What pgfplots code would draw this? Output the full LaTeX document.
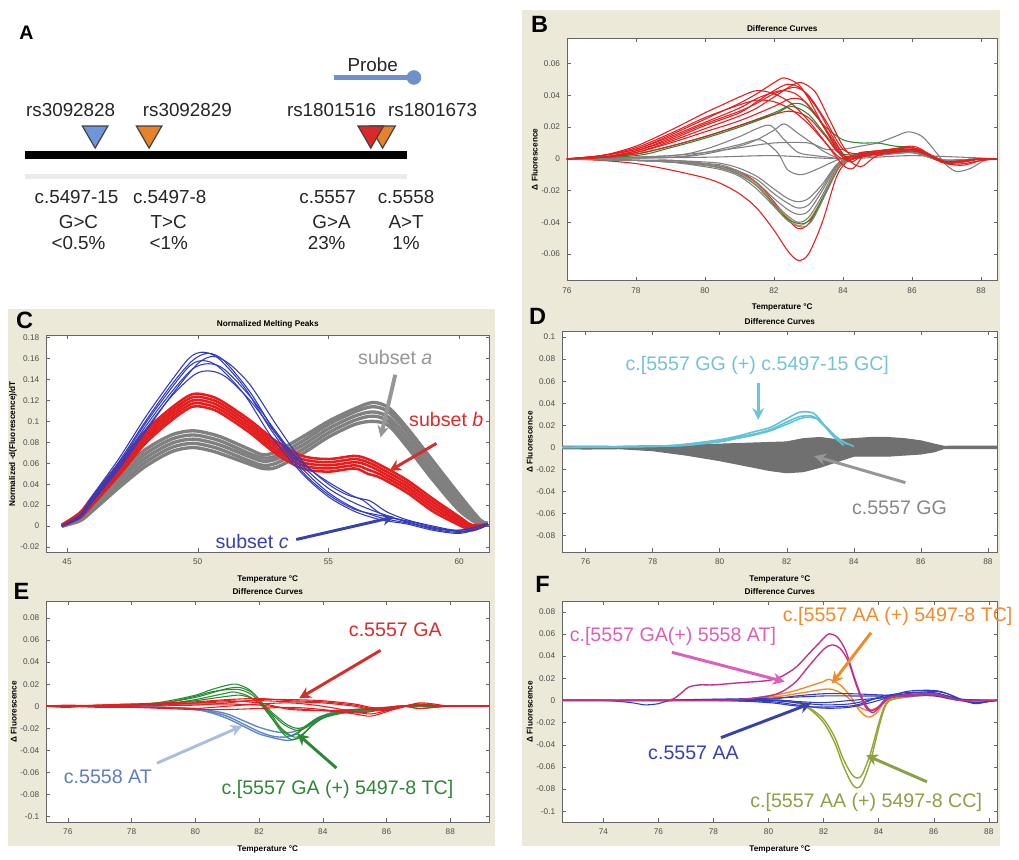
\documentclass[border=0pt]{standalone}
\usepackage{pgfplots}
\pgfplotsset{compat=1.18}
\usepackage{fontspec}
\setmainfont{Liberation Sans}
\usetikzlibrary{arrows.meta}
\definecolor{beige}{RGB}{236,233,216}
\definecolor{cgrey}{RGB}{128,128,128}
\definecolor{dgrey}{RGB}{112,112,112}
\definecolor{cred}{RGB}{228,30,30}
\definecolor{cblue}{RGB}{50,60,190}
\definecolor{cgreen}{RGB}{40,140,50}
\definecolor{corange}{RGB}{240,140,40}
\definecolor{ccyan}{RGB}{95,195,215}
\definecolor{csteel}{RGB}{95,135,200}
\definecolor{cpink}{RGB}{190,50,140}
\definecolor{colive}{RGB}{150,165,50}
\definecolor{probe}{RGB}{110,145,205}
\definecolor{tblue}{RGB}{110,150,220}
\definecolor{torange}{RGB}{230,130,40}
\definecolor{tred}{RGB}{220,40,40}
\definecolor{agrey}{RGB}{150,150,150}
\definecolor{ared}{RGB}{215,45,45}
\definecolor{ablue}{RGB}{55,65,175}
\definecolor{acyan}{RGB}{115,195,215}
\definecolor{asteel}{RGB}{95,125,190}
\definecolor{asteelarrow}{RGB}{170,190,222}
\definecolor{agreen}{RGB}{45,135,55}
\definecolor{apink}{RGB}{220,95,185}
\definecolor{aorange}{RGB}{238,140,45}
\definecolor{aolive}{RGB}{140,160,70}
\newcommand\ann{\fontsize{10}{12}\selectfont}
\newcommand\tk{\fontsize{4.2}{5}\selectfont}
\pgfplotsset{
  mat/.style={
    scale only axis, anchor=north west, clip=true,
    axis background/.style={fill=white},
    axis line style={black!60},
    tick style={black!60},
    major tick length=2pt,
    tick align=inside,
    ticklabel style={font=\tk, text=black!70},
    /pgf/number format/assume math mode=true,
    /pgf/number format/fixed, /pgf/number format/precision=2,
    scaled ticks=false,
    title style={font=\tk\bfseries, yshift=-6pt},
    xlabel style={font=\tk\bfseries, yshift=1.5pt},
    ylabel style={font=\tk\bfseries, yshift=-5pt},
    xlabel={Temperature °C},
    ylabel={Δ Fluorescence},
    title={Difference Curves},
    every axis plot/.append style={smooth, line width=0.55pt, no marks},
  },
}
\begin{document}
\begin{tikzpicture}
\begin{scope}[x=0.5pt,y=-0.5pt]
\useasboundingbox (0,0) rectangle (1019,862);
\fill[white] (0,0) rectangle (1019,862);
\fill[beige] (532,10) rectangle (1019,862);
\fill[beige] (8,315) rectangle (505,862);
\end{scope}

% ---------------- Panel A
\begin{axis}[at={(0pt,0pt)}, anchor=north west, scale only axis, width=265pt, height=150pt,
  xmin=0, xmax=530, ymin=-300, ymax=0, hide axis, clip=false]
\addplot[black!8, line width=2.5pt] coordinates {(25,-180) (415,-180)};
\addplot[black, line width=4pt] coordinates {(25,-158) (415,-158)};
\addplot[probe, line width=2.5pt] coordinates {(340,-79) (418,-79)};
\addplot[only marks, mark=*, mark size=3.5pt, color=probe] coordinates {(422,-79)};
\addplot[only marks, mark=triangle*, mark size=7.5pt, mark options={rotate=180, fill=tblue, draw=black!75, line width=0.6pt}] coordinates {(97,-136)};
\addplot[only marks, mark=triangle*, mark size=7.5pt, mark options={rotate=180, fill=torange, draw=black!75, line width=0.6pt}] coordinates {(152,-136)};
\addplot[only marks, mark=triangle*, mark size=7.5pt, mark options={rotate=180, fill=torange, draw=black!75, line width=0.6pt}] coordinates {(390,-136)};
\addplot[only marks, mark=triangle*, mark size=7.5pt, mark options={rotate=180, fill=tred, draw=black!75, line width=0.6pt}] coordinates {(378,-136)};
\node[font=\fontsize{10}{12}\selectfont\bfseries] at (axis cs:27,-33) {A};
\begin{scope}[every node/.style={font=\fontsize{9.6}{11}\selectfont, text=black!85}]
\node at (axis cs:380,-66) {Probe};
\node at (axis cs:72,-112) {rs3092828};
\node at (axis cs:191,-112) {rs3092829};
\node at (axis cs:338,-112) {rs1801516};
\node at (axis cs:441,-112) {rs1801673};
\node at (axis cs:78,-201) {c.5497-15};
\node at (axis cs:80,-226) {G>C};
\node at (axis cs:80,-248) {<0.5\%};
\node at (axis cs:173,-201) {c.5497-8};
\node at (axis cs:172,-226) {T>C};
\node at (axis cs:172,-248) {<1\%};
\node at (axis cs:334,-201) {c.5557};
\node at (axis cs:338,-226) {G>A};
\node at (axis cs:333,-248) {23\%};
\node at (axis cs:414,-201) {c.5558};
\node at (axis cs:414,-226) {A>T};
\node at (axis cs:414,-248) {1\%};
\end{scope}
\end{axis}

% ---------------- Panel B
\begin{axis}[mat, at={(289pt,-19.5pt)}, width=219.5pt, height=123.5pt,
  xmin=76, xmax=88.48, ymin=-0.0767, ymax=0.076,
  xtick={76,78,80,82,84,86,88}, ytick={-0.06,-0.04,-0.02,0,0.02,0.04,0.06}]
\addplot[cred] coordinates {(76,0)(77,-0.001)(78,-0.003)(79,-0.007)(80,-0.012)(80.5,-0.016)(81,-0.022)(81.5,-0.031)(82,-0.045)(82.4,-0.058)(82.7,-0.064)(83,-0.060)(83.4,-0.04)(83.8,-0.012)(84.1,-0.002)(84.5,0.002)(85,0.003)(86,0.004)(86.5,0.001)(87,-0.002)(88,0)(88.48,0)};
\addplot[cred] coordinates {(76,0)(78,-0.001)(79,-0.001)(80,-0.003)(80.5,-0.005)(81,-0.008)(81.5,-0.015)(82,-0.027)(82.4,-0.038)(82.7,-0.044)(83,-0.041)(83.4,-0.026)(83.8,-0.008)(84.1,0)(84.5,0.003)(85,0.004)(86,0.005)(86.5,0.001)(87,-0.002)(88,0)(88.48,0)};
\addplot[corange] coordinates {(76,0)(78,-0.001)(79,-0.002)(80,-0.004)(80.5,-0.006)(81,-0.009)(81.5,-0.016)(82,-0.028)(82.4,-0.037)(82.7,-0.042)(83,-0.039)(83.4,-0.025)(83.8,-0.007)(84.1,0)(84.5,0.003)(85,0.004)(86,0.005)(86.5,0.001)(87,-0.002)(88,0)(88.48,0)};
\addplot[cgreen] coordinates {(76,0)(78,-0.001)(79,-0.002)(80,-0.004)(80.5,-0.006)(81,-0.01)(81.5,-0.017)(82,-0.029)(82.4,-0.038)(82.8,-0.041)(83.1,-0.037)(83.5,-0.021)(83.9,-0.005)(84.2,0)(84.5,0.003)(85,0.004)(86,0.005)(86.5,0.001)(87,-0.002)(88,0)(88.48,0)};
\addplot[cgrey] coordinates {(76,0)(78,-0.001)(79,-0.002)(80,-0.004)(80.5,-0.006)(81,-0.010)(81.5,-0.017)(82,-0.028)(82.4,-0.036)(82.7,-0.040)(83,-0.037)(83.4,-0.023)(83.8,-0.006)(84.1,0)(84.5,0.003)(85,0.004)(86,0.006)(86.5,0.002)(87,-0.001)(88,0)(88.48,0)};
\addplot[cgrey] coordinates {(76,0)(78,-0.001)(79,-0.002)(80,-0.003)(80.5,-0.005)(81,-0.009)(81.5,-0.015)(82,-0.025)(82.4,-0.032)(82.7,-0.035)(83,-0.033)(83.4,-0.02)(83.8,-0.005)(84.1,0)(84.5,0.002)(85,0.003)(86,0.005)(86.5,0.002)(87,-0.001)(88,0)(88.48,0)};
\addplot[cgrey] coordinates {(76,0)(78,-0.001)(79,-0.001)(80,-0.003)(80.5,-0.004)(81,-0.008)(81.5,-0.013)(82,-0.022)(82.4,-0.028)(82.7,-0.031)(83,-0.029)(83.4,-0.018)(83.8,-0.004)(84.1,0)(84.5,0.002)(85,0.003)(86,0.005)(86.5,0.002)(87,-0.001)(88,0)(88.48,0)};
\addplot[cgrey] coordinates {(76,0)(78,-0.001)(79,-0.001)(80,-0.002)(80.5,-0.003)(81,-0.006)(81.5,-0.011)(82,-0.019)(82.4,-0.025)(82.7,-0.027)(83,-0.025)(83.4,-0.016)(83.8,-0.004)(84.1,0)(84.5,0.002)(85,0.003)(86,0.004)(86.5,0.002)(87,-0.001)(88,0)(88.48,0)};
\addplot[cgrey] coordinates {(76,0)(78,-0.001)(79,-0.002)(80,-0.005)(80.5,-0.007)(81,-0.011)(81.5,-0.019)(82,-0.03)(82.4,-0.039)(82.8,-0.043)(83.1,-0.039)(83.5,-0.022)(83.9,-0.005)(84.2,0)(84.5,0.003)(85,0.004)(86,0.006)(86.5,0.002)(87,-0.001)(88,0)(88.48,0)};
\addplot[cgrey] coordinates {(76,0)(79,0.002)(80,0.006)(81,0.014)(81.5,0.019)(81.9,0.021)(82.3,0.012)(82.7,0.004)(83.2,0.002)(83.6,0.001)(84,0)(85,0.003)(86,0.004)(86.5,0.001)(87,-0.001)(88,0)(88.48,0)};
\addplot[cgrey] coordinates {(76,0)(79,0.001)(80,0.004)(81,0.009)(81.6,0.012)(82.1,0.004)(82.4,-0.007)(82.8,-0.01)(83.3,-0.006)(83.8,-0.001)(84,0)(85,0.002)(86,0.004)(86.5,0.001)(87,-0.001)(88,0)(88.48,0)};
\addplot[cgrey] coordinates {(76,0)(78,0.001)(79,0.002)(80,0.004)(81,0.007)(82,0.01)(83,0.01)(83.5,0.006)(84,0.006)(84.5,0.008)(85,0.01)(85.5,0.014)(85.9,0.017)(86.3,0.014)(86.7,0.004)(87,-0.004)(87.3,-0.008)(87.7,-0.006)(88.1,-0.001)(88.48,0)};
\addplot[cgrey] coordinates {(76,0)(80,0.001)(82,0.002)(84,0)(86,0.002)(88.48,0)};
\addplot[cgrey] coordinates {(76,0)(79,0.001)(80,0.003)(81,0.008)(81.5,0.012)(82,0.018)(82.3,0.022)(82.7,0.016)(83.1,0.01)(83.5,0.004)(84,0)(85,0.003)(86,0.004)(86.5,0.001)(87,-0.001)(88,0)(88.48,0)};
\addplot[cgreen] coordinates {(76,0)(77,0.001)(78,0.003)(79,0.008)(80,0.014)(81,0.021)(82,0.029)(82.6,0.035)(83,0.032)(83.5,0.02)(84,0.012)(84.5,0.01)(85,0.01)(85.5,0.008)(86,0.007)(86.5,0.002)(87,-0.002)(88,0)(88.48,0)};
\addplot[cgreen] coordinates {(76,0)(78,0.002)(79,0.007)(80,0.013)(81,0.02)(82,0.028)(82.5,0.033)(83,0.028)(83.5,0.015)(84,0.003)(85,0.004)(86,0.006)(86.5,0.002)(87,-0.002)(88,0)(88.48,0)};
\addplot[cred] coordinates {(76,0)(77,0.002)(78,0.006)(79,0.015)(80,0.025)(80.5,0.030)(81,0.035)(81.5,0.041)(82,0.048)(82.3,0.051)(82.7,0.047)(83,0.038)(83.5,0.018)(84,0.001)(84.5,0.004)(85,0.005)(85.5,0.006)(86,0.007)(86.5,0.002)(87,-0.003)(87.5,-0.003)(88,-0.001)(88.48,0)};
\addplot[cred] coordinates {(76,0)(77,0.001)(78,0.004)(79,0.011)(80,0.019)(81,0.027)(81.5,0.032)(82,0.039)(82.5,0.046)(82.8,0.048)(83.2,0.042)(83.6,0.025)(84,0.008)(84.3,0.001)(84.6,0.004)(85,0.005)(86,0.007)(86.5,0.003)(87,-0.002)(87.5,-0.002)(88,0)(88.48,0)};
\addplot[cred] coordinates {(76,0)(77,0.002)(78,0.008)(79,0.018)(80,0.029)(80.5,0.034)(81,0.039)(81.5,0.043)(82,0.041)(82.5,0.035)(83,0.024)(83.5,0.01)(84,-0.004)(84.3,-0.006)(84.6,0.002)(85,0.004)(86,0.006)(86.5,0.002)(87,-0.003)(87.5,-0.004)(88,-0.001)(88.48,0)};
\addplot[cred] coordinates {(76,0)(77,0.001)(78,0.005)(79,0.013)(80,0.022)(81,0.03)(81.5,0.035)(82,0.041)(82.6,0.045)(83,0.04)(83.5,0.024)(84,0.006)(84.5,0.003)(85,0.004)(86,0.008)(86.5,0.003)(87,-0.002)(88,0)(88.48,0)};
\addplot[cred] coordinates {(76,0)(77,0.001)(78,0.004)(79,0.01)(80,0.017)(81,0.024)(82,0.033)(82.5,0.038)(82.9,0.036)(83.4,0.022)(84,0.003)(84.5,-0.005)(85,0.002)(86,0.006)(86.5,0.002)(87,-0.002)(88,0)(88.48,0)};
\addplot[cred] coordinates {(76,0)(77,0.002)(78,0.007)(79,0.016)(80,0.026)(81,0.034)(81.5,0.037)(82,0.036)(82.5,0.031)(83,0.022)(83.5,0.01)(84,0)(85,0.003)(86,0.005)(86.5,0.002)(87,-0.003)(88,0)(88.48,0)};
\addplot[cred] coordinates {(76,0)(77,0.001)(78,0.005)(79,0.012)(80,0.021)(81,0.029)(81.5,0.036)(82,0.043)(82.4,0.047)(82.8,0.044)(83.3,0.03)(83.8,0.01)(84.2,-0.002)(84.6,0.003)(85,0.004)(86,0.006)(86.5,0.002)(87,-0.002)(88,0)(88.48,0)};
\addplot[cred] coordinates {(76,0)(77,0.001)(78,0.003)(79,0.008)(80,0.014)(81,0.021)(82,0.028)(82.5,0.03)(83,0.026)(83.5,0.014)(84,0.002)(85,0.003)(86,0.005)(86.5,0.002)(87,-0.002)(88,0)(88.48,0)};
\addplot[cred] coordinates {(76,0)(77,0.002)(78,0.006)(79,0.014)(80,0.023)(81,0.032)(81.5,0.038)(82,0.042)(82.3,0.043)(82.7,0.04)(83.2,0.028)(83.7,0.011)(84.1,-0.001)(84.6,0.003)(85,0.005)(86,0.007)(86.5,0.002)(87,-0.002)(88,0)(88.48,0)};
\end{axis}

% ---------------- Panel C
\begin{axis}[mat, at={(23.5pt,-171pt)}, width=226pt, height=110.5pt,
  xmin=44.2, xmax=61.16, ymin=-0.025, ymax=0.182,
  xtick={45,50,55,60}, ytick={-0.02,0,0.02,0.04,0.06,0.08,0.1,0.12,0.14,0.16,0.18},
  title={Normalized Melting Peaks}, ylabel={Normalized -d(Fluorescence)/dT}]
\addplot[cgrey, line width=1.7pt] coordinates {(44.8,0.001)(45.5,0.012)(46,0.026)(47,0.051)(48,0.073)(49,0.087)(49.8,0.091)(50.5,0.088)(51,0.084)(52,0.073)(52.5,0.068)(53,0.071)(54,0.085)(55,0.1)(56,0.112)(56.7,0.118)(57.3,0.113)(58,0.094)(59,0.062)(60,0.03)(60.8,0.006)(61.1,0.003)};
\addplot[cgrey, line width=1.7pt] coordinates {(44.8,0)(45.5,0.010)(46,0.023)(47,0.047)(48,0.069)(49,0.083)(49.8,0.087)(50.5,0.084)(51,0.080)(52,0.069)(52.5,0.065)(53,0.067)(54,0.081)(55,0.097)(56,0.109)(56.7,0.114)(57.3,0.109)(58,0.09)(59,0.057)(60,0.026)(60.8,0.004)(61.1,0.002)};
\addplot[cgrey, line width=1.7pt] coordinates {(44.8,0)(45.5,0.008)(46,0.02)(47,0.044)(48,0.065)(49,0.079)(49.8,0.083)(50.5,0.08)(51,0.076)(52,0.066)(52.5,0.062)(53,0.064)(54,0.077)(55,0.093)(56,0.105)(56.7,0.109)(57.3,0.104)(58,0.085)(59,0.052)(60,0.022)(60.8,0.003)(61.1,0.002)};
\addplot[cgrey, line width=1.7pt] coordinates {(44.8,0)(45.5,0.006)(46,0.017)(47,0.04)(48,0.061)(49,0.075)(49.8,0.079)(50.5,0.076)(51,0.072)(52,0.062)(52.5,0.058)(53,0.06)(54,0.073)(55,0.089)(56,0.101)(56.7,0.105)(57.3,0.1)(58,0.08)(59,0.048)(60,0.018)(60.8,0.002)(61.1,0.002)};
\addplot[cgrey, line width=1.7pt] coordinates {(44.8,0)(45.5,0.005)(46,0.015)(47,0.037)(48,0.057)(49,0.071)(49.8,0.075)(50.5,0.072)(51,0.068)(52,0.059)(52.5,0.055)(53,0.056)(54,0.069)(55,0.085)(56,0.097)(56.7,0.1)(57.3,0.096)(58,0.076)(59,0.044)(60,0.015)(60.8,0.001)(61.1,0.002)};
\addplot[cred, line width=1.3pt] coordinates {(44.8,0.001)(45.5,0.013)(46,0.029)(47,0.06)(48,0.091)(49,0.113)(49.8,0.126)(50.5,0.124)(51,0.118)(52,0.101)(53,0.081)(54,0.067)(55,0.064)(56,0.067)(56.5,0.064)(57,0.058)(58,0.044)(59,0.026)(60,0.009)(60.5,0.001)(61.1,0.002)};
\addplot[cred, line width=1.3pt] coordinates {(44.8,0)(45.5,0.011)(46,0.027)(47,0.058)(48,0.088)(49,0.11)(49.8,0.123)(50.5,0.121)(51,0.115)(52,0.098)(53,0.078)(54,0.064)(55,0.061)(56,0.064)(56.5,0.061)(57,0.055)(58,0.041)(59,0.023)(60,0.007)(60.5,0)(61.1,0.002)};
\addplot[cred, line width=1.3pt] coordinates {(44.8,0)(45.5,0.01)(46,0.025)(47,0.055)(48,0.085)(49,0.107)(49.8,0.12)(50.5,0.118)(51,0.112)(52,0.095)(53,0.075)(54,0.061)(55,0.058)(56,0.061)(56.5,0.058)(57,0.052)(58,0.038)(59,0.02)(60,0.005)(60.5,-0.002)(61.1,0.002)};
\addplot[cred, line width=1.3pt] coordinates {(44.8,0)(45.5,0.009)(46,0.023)(47,0.052)(48,0.082)(49,0.104)(49.8,0.117)(50.5,0.115)(51,0.109)(52,0.092)(53,0.072)(54,0.058)(55,0.055)(56,0.058)(56.5,0.054)(57,0.049)(58,0.035)(59,0.017)(60,0.003)(60.5,-0.003)(61.1,0.002)};
\addplot[cred, line width=1.3pt] coordinates {(44.8,0)(45.5,0.008)(46,0.021)(47,0.049)(48,0.079)(49,0.101)(49.8,0.114)(50.5,0.112)(51,0.106)(52,0.089)(53,0.069)(54,0.055)(55,0.052)(56,0.055)(56.5,0.05)(57,0.046)(58,0.032)(59,0.014)(60,0.001)(60.5,-0.004)(61.1,0.002)};
\addplot[cblue] coordinates {(44.8,0)(45.5,0.01)(46,0.028)(47,0.062)(48,0.1)(49,0.135)(49.8,0.158)(50.4,0.165)(51,0.158)(52,0.128)(53,0.088)(54,0.055)(55,0.032)(56,0.017)(57,0.008)(58,0.003)(59,-0.002)(60,-0.005)(60.8,-0.002)(61.1,0.002)};
\addplot[cblue] coordinates {(44.8,0)(45.5,0.009)(46,0.026)(47,0.058)(48,0.095)(49,0.128)(49.8,0.15)(50.4,0.155)(51,0.15)(52,0.124)(53,0.09)(54,0.058)(55,0.036)(56,0.022)(57,0.012)(58,0.004)(59,-0.003)(60,-0.006)(60.8,-0.002)(61.1,0.002)};
\addplot[cblue] coordinates {(44.8,0)(45.5,0.008)(46,0.024)(47,0.055)(48,0.09)(49,0.125)(50,0.155)(50.6,0.162)(51.2,0.155)(52,0.135)(53,0.097)(54,0.062)(55,0.04)(55.7,0.03)(56.3,0.025)(57,0.012)(58,0.004)(59,-0.002)(60,-0.004)(61.1,0.002)};
\addplot[cblue] coordinates {(44.8,0)(45.5,0.01)(46,0.027)(47,0.06)(48,0.098)(49,0.132)(49.7,0.153)(50.2,0.158)(50.8,0.152)(51.8,0.125)(52.8,0.086)(54,0.05)(55,0.028)(56,0.014)(57,0.006)(58,0.002)(59,-0.004)(60,-0.007)(60.8,-0.002)(61.1,0.002)};
\addplot[cblue] coordinates {(44.8,0)(45.5,0.009)(46,0.025)(47,0.056)(48,0.092)(49,0.124)(49.9,0.145)(50.5,0.148)(51.1,0.142)(52,0.12)(53,0.088)(54,0.06)(55,0.042)(56,0.028)(56.6,0.024)(57.2,0.014)(58,0.006)(59,0)(60,-0.004)(61.1,0.002)};
\addplot[cblue] coordinates {(44.8,0)(45.5,0.011)(46,0.03)(47,0.065)(48,0.104)(49,0.139)(49.7,0.161)(50.2,0.166)(50.8,0.16)(51.8,0.132)(52.8,0.092)(54,0.052)(55,0.03)(56,0.016)(57,0.01)(58,0.005)(59,-0.001)(60,-0.005)(60.8,-0.002)(61.1,0.002)};
\end{axis}

% ---------------- Panel D
\begin{axis}[mat, at={(286.5pt,-169pt)}, width=222pt, height=112.5pt,
  xmin=75.3, xmax=88.29, ymin=-0.095, ymax=0.105,
  xtick={76,78,80,82,84,86,88}, ytick={-0.08,-0.06,-0.04,-0.02,0,0.02,0.04,0.06,0.08,0.1}]
\addplot[sharp plot, fill=dgrey, draw=dgrey, line width=0.5pt] coordinates {(75.3,0.0012)(76,0.0012)(77,0.001)(78,0.0015)(79,0.002)(80,0.003)(81,0.004)(82,0.005)(82.5,0.008)(83,0.009)(83.5,0.007)(84,0.008)(84.5,0.009)(85,0.009)(85.5,0.008)(86,0.006)(86.4,0.003)(86.7,0.001)(87,0.0012)(88.3,0.0012)(88.3,-0.0012)(87,-0.0012)(86.7,-0.001)(86.4,-0.004)(86,-0.006)(85,-0.008)(84,-0.008)(83.5,-0.013)(83,-0.018)(82.5,-0.022)(82,-0.023)(81.5,-0.021)(81,-0.018)(80,-0.012)(79,-0.007)(78,-0.003)(77,-0.0012)(76,-0.0015)(75.3,-0.0012)} -- cycle;
\addplot[ccyan, line width=0.8pt] coordinates {(75.3,0)(78,0.001)(79,0.003)(80,0.007)(80.5,0.01)(81,0.014)(81.5,0.018)(82,0.026)(82.4,0.032)(82.8,0.031)(83.1,0.021)(83.3,0.013)(83.5,0.007)(83.7,0.002)};
\addplot[ccyan, line width=0.8pt] coordinates {(75.3,0)(78,0.001)(79,0.002)(80,0.006)(80.5,0.009)(81,0.012)(81.5,0.016)(82,0.023)(82.4,0.028)(82.8,0.028)(83.1,0.02)(83.4,0.011)(83.7,0.005)(84,0.001)};
\addplot[ccyan, line width=0.8pt] coordinates {(75.3,0)(78,0.001)(79,0.002)(80,0.005)(80.5,0.008)(81,0.011)(81.5,0.015)(82,0.021)(82.5,0.027)(82.9,0.026)(83.2,0.018)(83.5,0.009)(83.8,0.003)};
\end{axis}

% ---------------- Panel E
\begin{axis}[mat, at={(23.5pt,-306.5pt)}, width=226pt, height=112.5pt,
  xmin=75.32, xmax=89.23, ymin=-0.1049, ymax=0.0951,
  xtick={76,78,80,82,84,86,88}, ytick={-0.1,-0.08,-0.06,-0.04,-0.02,0,0.02,0.04,0.06,0.08}]
\addplot[csteel, line width=0.7pt] coordinates {(75.3,0)(78,0)(79,-0.001)(80,-0.003)(80.5,-0.006)(81,-0.011)(81.5,-0.018)(82,-0.025)(82.5,-0.029)(82.9,-0.031)(83.2,-0.029)(83.5,-0.022)(83.9,-0.012)(84.4,-0.006)(85,-0.004)(86,-0.002)(86.5,0)(89.2,0)};
\addplot[csteel, line width=0.7pt] coordinates {(75.3,0)(78,0)(79,-0.001)(80,-0.003)(80.5,-0.005)(81,-0.009)(81.5,-0.016)(82,-0.023)(82.4,-0.027)(82.7,-0.028)(83,-0.027)(83.4,-0.02)(83.8,-0.011)(84.4,-0.005)(85,-0.003)(86,-0.002)(86.5,0)(89.2,0)};
\addplot[csteel, line width=0.7pt] coordinates {(75.3,0)(78,0)(79,-0.001)(80,-0.002)(80.5,-0.004)(81,-0.007)(81.5,-0.013)(82,-0.019)(82.5,-0.023)(82.9,-0.024)(83.2,-0.022)(83.6,-0.016)(84,-0.009)(84.5,-0.004)(85,-0.003)(86,-0.001)(86.5,0)(89.2,0)};
\addplot[cgreen] coordinates {(75.3,0)(77,0)(78,0.001)(79,0.004)(80,0.01)(80.5,0.015)(81,0.019)(81.3,0.02)(81.7,0.015)(82,0.006)(82.3,-0.006)(82.6,-0.018)(82.9,-0.026)(83.2,-0.025)(83.5,-0.017)(84,-0.009)(84.5,-0.006)(85,-0.005)(85.5,-0.004)(86,-0.002)(86.5,0)(89.2,0)};
\addplot[cgreen] coordinates {(75.3,0)(77,0)(78,0.001)(79,0.003)(80,0.008)(80.5,0.012)(81,0.016)(81.4,0.017)(81.8,0.012)(82.1,0.003)(82.4,-0.008)(82.7,-0.02)(83.1,-0.028)(83.4,-0.025)(83.7,-0.016)(84.1,-0.009)(84.6,-0.006)(85,-0.005)(85.5,-0.004)(86,-0.002)(86.5,0)(89.2,0)};
\addplot[cgreen] coordinates {(75.3,0)(77,0)(78,0.001)(79,0.002)(80,0.006)(80.5,0.009)(81,0.012)(81.2,0.013)(81.6,0.01)(82,0.003)(82.4,-0.007)(82.8,-0.017)(83.2,-0.022)(83.5,-0.019)(83.9,-0.011)(84.4,-0.006)(85,-0.004)(85.5,-0.003)(86,-0.002)(86.5,0)(89.2,0)};
\addplot[cgreen] coordinates {(75.3,0)(77,0)(78,0.001)(79,0.003)(80,0.009)(80.5,0.013)(81,0.015)(81.4,0.015)(81.8,0.01)(82.1,0)(82.4,-0.011)(82.7,-0.023)(83,-0.03)(83.3,-0.028)(83.6,-0.019)(84,-0.011)(84.5,-0.007)(85,-0.005)(85.5,-0.004)(86,-0.002)(86.5,0)(89.2,0)};
\addplot[cgreen] coordinates {(75.3,0)(77,0)(78,0.001)(79,0.002)(80,0.005)(80.5,0.007)(81,0.009)(81.4,0.01)(81.8,0.007)(82.2,0)(82.5,-0.008)(82.9,-0.017)(83.2,-0.02)(83.5,-0.018)(83.9,-0.01)(84.4,-0.006)(85,-0.004)(85.5,-0.003)(86,-0.002)(86.5,0)(89.2,0)};
\addplot[cred] coordinates {(75.3,0)(76,-0.001)(77,0.001)(78,0.001)(79,0.002)(80,0.003)(81,0.004)(82,0.005)(83,0.004)(84,0.003)(85,0)(85.5,-0.003)(86,-0.003)(86.5,0)(87,0.002)(87.5,0.001)(88,0)(89.2,0)};
\addplot[cred] coordinates {(75.3,0)(76,0.001)(77,0)(78,-0.001)(79,-0.001)(80,-0.002)(81,0)(82,0.002)(83,0.003)(84,0)(85,-0.005)(85.5,-0.007)(86,-0.004)(86.5,0)(87,-0.002)(87.5,-0.001)(88,0)(89.2,0)};
\addplot[cred] coordinates {(75.3,0)(76,0)(77,0.001)(78,0.002)(79,0.001)(80,0.001)(81,0.003)(82,0.006)(83,0.006)(84,0.005)(85,0.002)(85.5,-0.001)(86,-0.002)(86.5,0)(87,0.002)(87.5,0.001)(88,0)(89.2,0)};
\addplot[cred] coordinates {(75.3,0)(76,0)(77,-0.001)(78,-0.001)(79,-0.002)(80,-0.003)(81,-0.003)(82,-0.002)(83,-0.001)(84,-0.003)(85,-0.007)(85.5,-0.009)(86,-0.005)(86.5,0)(87,-0.002)(87.5,-0.001)(88,0)(89.2,0)};
\addplot[cred] coordinates {(75.3,0)(76,0)(77,0)(78,0.001)(79,0.002)(80,0.002)(81,0.002)(82,0.001)(83,-0.002)(84,-0.004)(85,-0.006)(85.5,-0.005)(86,-0.002)(86.5,0)(87,0.001)(88,0)(89.2,0)};
\addplot[cred] coordinates {(75.3,0)(77,0)(78,0)(79,0.001)(80,0.003)(81,0.005)(82,0.003)(82.5,0)(83,-0.003)(84,-0.004)(85,-0.003)(86,-0.001)(86.5,0)(87,0.001)(88,0)(89.2,0)};
\addplot[cred] coordinates {(75.3,0)(77,0.001)(78,0.002)(79,0.003)(80,0.004)(81,0.006)(82,0.007)(83,0.005)(84,0.004)(85,0.001)(85.5,-0.002)(86,-0.004)(86.5,-0.001)(87,0.003)(87.5,0.002)(88,0)(89.2,0)};
\end{axis}

% ---------------- Panel F
\begin{axis}[mat, at={(286.5pt,-306.5pt)}, width=222pt, height=112.5pt,
  xmin=72.5, xmax=88.32, ymin=-0.1097, ymax=0.0894,
  xtick={74,76,78,80,82,84,86,88}, ytick={-0.1,-0.08,-0.06,-0.04,-0.02,0,0.02,0.04,0.06,0.08}]
\addplot[colive, line width=0.7pt] coordinates {(72.5,0)(79,0)(80,0.001)(81,-0.002)(81.5,-0.008)(82,-0.02)(82.4,-0.038)(82.7,-0.058)(83,-0.074)(83.2,-0.079)(83.4,-0.075)(83.7,-0.055)(84,-0.025)(84.2,-0.008)(84.4,0)(85,0.003)(86,0.005)(86.5,0.002)(87,0)(88.3,0)};
\addplot[colive, line width=0.7pt] coordinates {(72.5,0)(79,0)(80,0.001)(81,-0.002)(81.5,-0.007)(82,-0.017)(82.4,-0.033)(82.7,-0.052)(83,-0.066)(83.2,-0.07)(83.4,-0.067)(83.7,-0.048)(84,-0.021)(84.2,-0.006)(84.4,0)(85,0.003)(86,0.005)(86.5,0.002)(87,0)(88.3,0)};
\addplot[corange, line width=0.7pt] coordinates {(72.5,0)(79,0)(79.5,0.002)(80,0.004)(80.5,0.006)(81,0.009)(81.5,0.013)(82,0.017)(82.2,0.019)(82.6,0.014)(83,0.003)(83.3,-0.009)(83.6,-0.015)(83.9,-0.012)(84.2,-0.002)(84.5,0.003)(85,0.005)(86,0.006)(86.5,0.003)(87,0)(88.3,0)};
\addplot[corange, line width=0.7pt] coordinates {(72.5,0)(79,0)(79.5,0.001)(80,0.003)(80.5,0.004)(81,0.006)(81.5,0.008)(82,0.01)(82.3,0.01)(82.7,0.006)(83,0)(83.3,-0.006)(83.6,-0.009)(83.9,-0.007)(84.2,-0.001)(84.5,0.003)(85,0.004)(86,0.005)(86.5,0.003)(87,0)(88.3,0)};
\addplot[cblue] coordinates {(72.5,0)(74,0)(75,-0.002)(75.5,-0.004)(76,-0.003)(76.5,0)(78,0.001)(80,0)(81,-0.002)(82,-0.004)(83,-0.003)(84,0.002)(85,0.006)(86,0.008)(86.5,0.006)(87,0.001)(87.5,-0.003)(88,-0.001)(88.3,0)};
\addplot[cblue] coordinates {(72.5,0)(76,0)(78,0)(80,-0.001)(81,-0.004)(82,-0.007)(83,-0.006)(84,0)(85,0.008)(86,0.009)(86.5,0.006)(87,0)(87.5,-0.002)(88.3,0)};
\addplot[cblue] coordinates {(72.5,0)(76,0)(78,0.001)(80,0.002)(81,0.003)(82,0.004)(83,0.004)(84,0.004)(85,0.005)(86,0.006)(86.5,0.004)(87,0.001)(88.3,0)};
\addplot[cblue] coordinates {(72.5,0)(78,0)(80,-0.002)(81,-0.005)(82,-0.006)(83,-0.005)(83.5,-0.002)(84,0.003)(85,0.007)(86,0.007)(86.8,0.002)(87.5,-0.002)(88.3,0)};
\addplot[cblue] coordinates {(72.5,0)(78,0)(80,0.001)(81,0.004)(82,0.006)(83,0.006)(84,0.005)(85,0.004)(86,0.005)(87,0.001)(88.3,0)};
\addplot[cblue] coordinates {(72.5,0)(80,0)(81,-0.001)(82,-0.002)(83,0)(84,0.002)(85,0.004)(86,0.004)(87,0)(88.3,0)};
\addplot[cpink, line width=0.7pt] coordinates {(72.5,0)(76,0)(76.5,0.001)(76.8,0.006)(77.1,0.012)(77.5,0.014)(78,0.014)(79,0.016)(80,0.018)(80.5,0.022)(81,0.03)(81.5,0.043)(82,0.056)(82.2,0.06)(82.5,0.057)(82.8,0.045)(83.1,0.022)(83.4,0.002)(83.7,-0.009)(84,-0.006)(84.3,0.002)(85,0.005)(86,0.006)(86.5,0.003)(87,0)(88.3,0)};
\addplot[cpink, line width=0.7pt] coordinates {(72.5,0)(78,0)(79,0.001)(80,0.004)(80.5,0.008)(81,0.017)(81.5,0.032)(82,0.046)(82.3,0.05)(82.6,0.047)(82.9,0.035)(83.2,0.013)(83.5,-0.005)(83.8,-0.011)(84.1,-0.004)(84.4,0.002)(85,0.004)(86,0.005)(86.5,0.003)(87,0)(88.3,0)};
\end{axis}

% ---------------- annotations
\begin{scope}[x=0.5pt,y=-0.5pt]
\begin{scope}[every node/.style={font=\fontsize{12}{12}\selectfont\bfseries}]
\node at (550,25) {B};
\node at (25,327) {C};
\node at (548,323) {D};
\node at (22,603) {E};
\node at (553,596) {F};
\end{scope}
\begin{scope}[every node/.style={font=\ann}, line width=1.5pt]
\node[text=agrey] at (403,364) {subset \textit{a}};
\draw[agrey, line width=2pt, -{Stealth[length=6pt,width=6pt]}] (403,382) -- (388,446);
\node[text=ared] at (455,428) {subset \textit{b}};
\draw[ared, -{Stealth[length=6pt,width=6pt]}] (445,452) -- (397,480);
\node[text=ablue] at (257,552) {subset \textit{c}};
\draw[ablue, -{Stealth[length=6pt,width=6pt]}] (302,550) -- (402,527);
\node[text=acyan] at (772,373) {c.[5557 GG (+) c.5497-15 GC]};
\draw[acyan, -{Stealth[length=6pt,width=6pt]}] (773,390) -- (773,428);
\node[text=agrey!90!black] at (917,518) {c.5557 GG};
\draw[agrey, -{Stealth[length=6pt,width=6pt]}] (923,492) -- (830,465);
\node[text=ared] at (403,642) {c.5557 GA};
\draw[ared, -{Stealth[length=6pt,width=6pt]}] (388,663) -- (305,712);
\node[text=asteel] at (110,792) {c.5558 AT};
\draw[asteelarrow, -{Stealth[length=6pt,width=6pt]}] (160,778) -- (247,740);
\node[text=agreen] at (344,805) {c.[5557 GA (+) 5497-8 TC]};
\draw[agreen, -{Stealth[length=6pt,width=6pt]}] (343,783) -- (303,748);
\node[text=apink] at (686,649) {c.[5557 GA(+) 5558 AT]};
\draw[apink, -{Stealth[length=6pt,width=6pt]}] (685,665) -- (800,695);
\node[text=aorange, anchor=west] at (790,628) {c.[5557 AA (+) 5497-8 TC]};
\draw[aorange, -{Stealth[length=6pt,width=6pt]}] (888,645) -- (848,697);
\node[text=ablue] at (707,768) {c.5557 AA};
\draw[ablue, -{Stealth[length=6pt,width=6pt]}] (735,752) -- (827,717);
\node[text=aolive] at (883,818) {c.[5557 AA (+) 5497-8 CC]};
\draw[aolive, -{Stealth[length=6pt,width=6pt]}] (945,797) -- (883,770);
\end{scope}
\end{scope}
\end{tikzpicture}
\end{document}
